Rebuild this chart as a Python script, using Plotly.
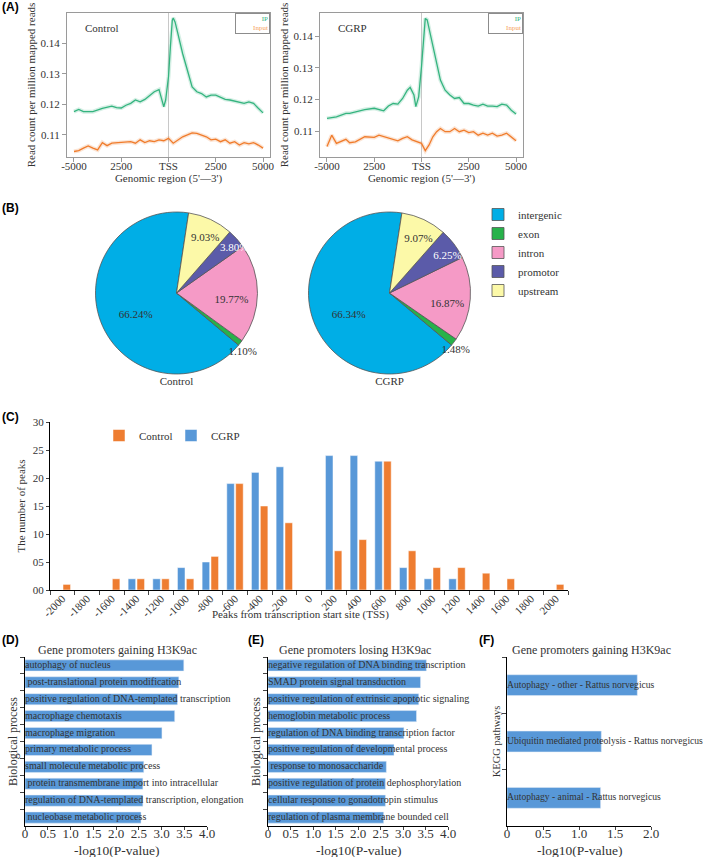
import plotly.graph_objects as go

# ---------------- Panel A data (profile around TSS) ----------------
ctrl_ip_pos = [-5000,-4750,-4500,-4000,-3500,-3000,-2750,-2500,-2250,-2000,-1750,-1500,-1250,-1000,-750,
               -500,-400,-250,-150,0,100,200,250,350,500,750,1000,1250,1500,1750,2000,2250,2500,2750,3000,
               3250,3500,3750,4000,4250,4500,4750,5000]
ctrl_ip = [0.1176,0.1183,0.1176,0.1176,0.1187,0.1194,0.1189,0.1188,0.1197,0.1203,0.1214,0.1208,0.1216,0.1230,0.1241,
           0.1248,0.1224,0.1192,0.1214,0.1290,0.1387,0.1474,0.1482,0.1468,0.1430,0.1365,0.1311,0.1257,0.1241,0.1235,
           0.1224,0.1230,0.1230,0.1224,0.1216,0.1214,0.1210,0.1208,0.1203,0.1208,0.1203,0.1187,0.1172]
ctrl_in_pos = [-5000,-4750,-4500,-4250,-4000,-3750,-3500,-3250,-3000,-2500,-2000,-1750,-1500,-1250,-1000,-750,
               -500,-250,0,250,500,750,1000,1250,1500,1750,2000,2250,2500,2750,3000,3250,3500,3750,4000,4250,
               4500,4750,5000]
ctrl_in = [0.1046,0.1049,0.1057,0.1064,0.1057,0.1051,0.1075,0.1065,0.1073,0.1075,0.1078,0.1073,0.1084,0.1075,0.1081,
           0.1078,0.1084,0.1081,0.1089,0.1073,0.1084,0.1094,0.1100,0.1107,0.1105,0.1100,0.1094,0.1084,0.1086,0.1078,
           0.1084,0.1073,0.1078,0.1067,0.1075,0.1071,0.1075,0.1067,0.1057]
cgrp_ip_pos = [-5000,-4500,-4000,-3800,-3000,-2500,-2000,-1750,-1500,-1250,-1000,-750,-600,-400,-300,-150,0,100,
               200,300,500,750,1000,1250,1500,1750,2000,2250,2500,2750,3000,3250,3500,3750,4000,4250,4500,4750,5000]
cgrp_ip = [0.1140,0.1145,0.1156,0.1156,0.1168,0.1172,0.1164,0.1179,0.1187,0.1185,0.1203,0.1229,0.1238,0.1214,0.1177,
           0.1208,0.1303,0.1398,0.1456,0.1451,0.1398,0.1324,0.1261,0.1229,0.1214,0.1203,0.1206,0.1187,0.1187,0.1182,
           0.1179,0.1185,0.1179,0.1179,0.1177,0.1185,0.1182,0.1166,0.1154]
cgrp_in_pos = [-5000,-4750,-4500,-4000,-3800,-3500,-3000,-2500,-2250,-2000,-1750,-1500,-1250,-1000,-750,-500,-250,0,
               200,400,600,800,1000,1250,1500,1750,2000,2250,2500,2750,3000,3250,3500,3750,4000,4250,4500,4750,5000]
cgrp_in = [0.1051,0.1087,0.1061,0.1074,0.1063,0.1066,0.1082,0.1080,0.1087,0.1082,0.1077,0.1074,0.1069,0.1077,0.1082,
           0.1072,0.1066,0.1061,0.1038,0.1056,0.1082,0.1098,0.1108,0.1098,0.1098,0.1108,0.1098,0.1103,0.1095,0.1098,
           0.1087,0.1093,0.1087,0.1093,0.1084,0.1087,0.1093,0.1082,0.1069]
a_tickvals = [-5000, -2500, 0, 2500, 5000]
a_ticktext = ["-5000", "2500", "TSS", "2500", "5000"]
a_yticks = [0.11, 0.12, 0.13, 0.14]
a_yticktext = ["0.11", "0.12", "0.13", "0.14"]

# ---------------- Panel B data (genomic distribution) ----------------
pie_labels = ["intergenic", "exon", "intron", "promotor", "upstream"]
pie_ctrl = [66.24, 1.10, 19.77, 3.80, 9.03]
pie_cgrp = [66.34, 1.48, 16.87, 6.25, 9.07]

# ---------------- Panel C data (peak distance to TSS) ----------------
tss_bins = ["-2000","-1800","-1600","-1400","-1200","-1000","-800","-600","-400","-200","0",
            "200","400","600","800","1000","1200","1400","1600","1800","2000"]
peaks_cgrp = [0,0,0,2,2,4,5,19,21,22,0,24,24,23,4,2,2,0,0,0,0]
peaks_ctrl = [1,0,2,2,2,2,6,19,15,12,0,7,9,23,7,4,4,3,2,0,1]
c_yticks = [0, 5, 10, 15, 20, 25, 30]
c_yticktext = ["00", "05", "10", "15", "20", "25", "30"]

# ---------------- Panels D, E, F data (enrichment) ----------------
go_gain_terms = ["autophagy of nucleus", " post-translational protein modification",
                 "positive regulation of DNA-templated transcription", "macrophage chemotaxis",
                 "macrophage migration", "primary metabolic process", "small molecule metabolic process",
                 " protein transmembrane import into intracellular",
                 "regulation of DNA-templated transcription, elongation", " nucleobase metabolic process"]
go_gain_vals = [3.49, 3.38, 3.35, 3.29, 3.01, 2.79, 2.61, 2.59, 2.59, 2.55]
go_lose_terms = ["negative regulation of DNA binding transcription", "SMAD protein signal transduction",
                 "positive regulation of extrinsic apoptotic signaling", "hemoglobin metabolic process",
                 "regulation of DNA binding transcription factor", "positive regulation of developmental process",
                 " response to monosaccharide", "positive regulation of protein dephosphorylation",
                 "cellular response to gonadotropin stimulus", "regulation of plasma membrane bounded cell"]
go_lose_vals = [3.52, 3.39, 3.35, 3.30, 3.02, 2.80, 2.63, 2.61, 2.61, 2.57]
kegg_terms = ["Autophagy - other - Rattus norvegicus", "Ubiquitin mediated proteolysis - Rattus norvegicus",
              "Autophagy - animal - Rattus norvegicus"]
kegg_vals = [1.81, 1.31, 1.30]
p_ticks4 = [0, 0.5, 1.0, 1.5, 2.0, 2.5, 3.0, 3.5, 4.0]
p_ticktext4 = ["0", "0.5", "1.0", "1.5", "2.0", "2.5", "3.0", "3.5", "4.0"]
p_ticks2 = [0, 0.5, 1.0, 1.5, 2.0]
p_ticktext2 = ["0", "0.5", "1.0", "1.5", "2.0"]

# ---------------- styling ----------------
W, H = 709, 857
SERIF = "Liberation Serif"
SANS = "Liberation Sans"
GREEN = "#35b47f"
ORANGE = "#f07c2c"
BAR_ORANGE = "#ee7d31"
BLUE = "#5898d8"
PIE_COLORS = ["#00aee6", "#27b24a", "#f59ac6", "#5b5ba9", "#fcf9a8"]
TXT = "#333333"


def px_x(p):
    return p / W


def px_y(p):
    return 1 - p / H


fig = go.Figure()

# ----- Panel A traces -----
for xs, ys, col, xa, ya in [(ctrl_ip_pos, ctrl_ip, GREEN, "x", "y"),
                            (ctrl_in_pos, ctrl_in, ORANGE, "x", "y"),
                            (cgrp_ip_pos, cgrp_ip, GREEN, "x2", "y2"),
                            (cgrp_in_pos, cgrp_in, ORANGE, "x2", "y2")]:
    fig.add_trace(go.Scatter(x=xs, y=ys, mode="lines", line=dict(color=col, width=4),
                             opacity=0.2, xaxis=xa, yaxis=ya, showlegend=False, hoverinfo="skip"))
    fig.add_trace(go.Scatter(x=xs, y=ys, mode="lines", line=dict(color=col, width=1.3),
                             xaxis=xa, yaxis=ya, showlegend=False))

# ----- Panel B pies (coloured pie + transparent overlay carrying the labels) -----
pie_txtcol = [TXT, TXT, TXT, "white", TXT]
for vals, name, dom in [(pie_ctrl, "Control", [89, 264]), (pie_cgrp, "CGRP", [302, 477])]:
    d = dict(x=[px_x(dom[0]), px_x(dom[1])], y=[px_y(386), px_y(212)])
    fig.add_trace(go.Pie(
        labels=pie_labels, values=vals, sort=False, direction="counterclockwise", rotation=130,
        marker=dict(colors=PIE_COLORS, line=dict(color="#555555", width=0.8)),
        textinfo="none", domain=d,
        title=dict(text=name, position="bottom center", font=dict(family=SERIF, size=11, color=TXT)),
        legend="legend", hoverinfo="label+value", name=name, showlegend=(name == "Control")))
    fig.add_trace(go.Pie(
        labels=pie_labels, values=vals, sort=False, direction="counterclockwise", rotation=130,
        marker=dict(colors=["rgba(0,0,0,0)"] * 5, line=dict(width=0)),
        texttemplate="%{value:.2f}%", textposition="inside", insidetextorientation="horizontal",
        textfont=dict(family=SERIF, size=11, color=pie_txtcol),
        domain=d, showlegend=False, hoverinfo="skip"))

# ----- Panel C bars -----
fig.add_trace(go.Bar(x=tss_bins, y=peaks_cgrp, name="CGRP", marker=dict(color=BLUE, line=dict(color="white", width=0.5)),
                     xaxis="x3", yaxis="y3", legend="legend2", legendrank=2))
fig.add_trace(go.Bar(x=tss_bins, y=peaks_ctrl, name="Control", marker=dict(color=BAR_ORANGE, line=dict(color="white", width=0.5)),
                     xaxis="x3", yaxis="y3", legend="legend2", legendrank=1))

# ----- Panels D, E, F -----
for terms, vals, xa, ya, bw, fs in [(go_gain_terms, go_gain_vals, "x4", "y4", 0.66, 10),
                                    (go_lose_terms, go_lose_vals, "x5", "y5", 0.66, 10),
                                    (kegg_terms, kegg_vals, "x6", "y6", 0.37, 9.6)]:
    fig.add_trace(go.Bar(x=vals, y=terms, orientation="h", width=bw, marker=dict(color=BLUE),
                         xaxis=xa, yaxis=ya, showlegend=False))
    fig.add_trace(go.Scatter(x=[0] * len(terms), y=terms, mode="text", text=terms, textposition="middle right",
                             textfont=dict(family=SERIF, size=fs, color=TXT), cliponaxis=False,
                             xaxis=xa, yaxis=ya, showlegend=False, hoverinfo="skip"))

# ---------------- axes ----------------
tickf = dict(family=SERIF, size=11, color=TXT)


def a_x(domain, anchor):
    return dict(domain=domain, anchor=anchor, range=[-5370, 5370], tickvals=a_tickvals, ticktext=a_ticktext,
                showline=True, mirror=True, linecolor="#9a9a9a", linewidth=1, ticks="outside", ticklen=4,
                tickcolor="#9a9a9a", showgrid=False, zeroline=False, tickfont=tickf, automargin=False,
                ticklabelstandoff=-5,
                title=dict(text="Genomic region (5'—3')", font=dict(family=SERIF, size=11, color=TXT), standoff=0))


def a_y(domain, anchor, rng):
    return dict(domain=domain, anchor=anchor, range=rng, tickvals=a_yticks, ticktext=a_yticktext,
                showline=True, mirror=True, linecolor="#9a9a9a", linewidth=1, ticks="outside", ticklen=4,
                tickcolor="#9a9a9a", showgrid=False, zeroline=False, tickfont=tickf, automargin=False,
                title=dict(text="Read count per million mapped reads", font=dict(family=SERIF, size=11, color=TXT),
                           standoff=2))


def p_x(domain, anchor, rng, tv, tt):
    return dict(domain=domain, anchor=anchor, range=rng, tickvals=tv, ticktext=tt, showline=True, linecolor="black",
                linewidth=1, ticks="outside", ticklen=3, showgrid=False, zeroline=False, automargin=False,
                ticklabelstandoff=-8, tickfont=dict(family=SERIF, size=13, color=TXT))


def p_y(domain, anchor, terms, title, fs):
    return dict(domain=domain, anchor=anchor, type="category", categoryorder="array", categoryarray=terms,
                autorange="reversed", showticklabels=False, ticks="outside", tickson="boundaries", ticklen=4,
                showline=True, linecolor="black", linewidth=1, showgrid=False, zeroline=False, automargin=False,
                title=dict(text=title, font=dict(family=SERIF, size=fs, color=TXT), standoff=3))


ydomA = [px_y(157), px_y(13)]
ydomDEF = [px_y(826), px_y(657)]

layout = dict(
    width=W, height=H, margin=dict(l=0, r=0, t=0, b=0, autoexpand=False), paper_bgcolor="white",
    plot_bgcolor="white", font=dict(family=SERIF, size=11, color=TXT),
    barmode="group", bargap=0.28, bargroupgap=0.15,
    uniformtext=dict(minsize=11, mode="show"),
    xaxis=a_x([px_x(67), px_x(270)], "y"),
    yaxis=a_y(ydomA, "x", [0.1028, 0.1498]),
    xaxis2=a_x([px_x(320), px_x(523)], "y2"),
    yaxis2=a_y(ydomA, "x2", [0.1018, 0.1473]),
    xaxis3=dict(domain=[px_x(50), px_x(568)], anchor="y3", type="category", tickangle=-45, showline=True,
                linecolor="black", linewidth=1, ticks="outside", tickson="boundaries", ticklen=4, showgrid=False,
                tickfont=dict(family=SERIF, size=11, color=TXT), automargin=False, ticklabelstandoff=-3),
    yaxis3=dict(domain=[px_y(590), px_y(422)], anchor="x3", range=[0, 30], tickvals=c_yticks, ticktext=c_yticktext,
                showline=True, linecolor="black", linewidth=1, ticks="outside", ticklen=3, showgrid=False,
                zeroline=False, tickfont=dict(family=SERIF, size=11, color=TXT), automargin=False,
                title=dict(text="The number of peaks", font=dict(family=SERIF, size=11, color=TXT), standoff=4)),
    xaxis4=p_x([px_x(25), px_x(207)], "y4", [0, 4.0], p_ticks4, p_ticktext4),
    yaxis4=p_y(ydomDEF, "x4", go_gain_terms, "Biological process", 12),
    xaxis5=p_x([px_x(268), px_x(448)], "y5", [0, 4.0], p_ticks4, p_ticktext4),
    yaxis5=p_y(ydomDEF, "x5", go_lose_terms, "Biological process", 12),
    xaxis6=p_x([px_x(507), px_x(651)], "y6", [0, 2.0], p_ticks2, p_ticktext2),
    yaxis6=p_y(ydomDEF, "x6", kegg_terms, "KEGG pathways", 10.5),
    legend=dict(x=px_x(478), y=px_y(200), xanchor="left", yanchor="top", bgcolor="rgba(0,0,0,0)",
                font=dict(family=SERIF, size=11, color=TXT), tracegroupgap=0, itemwidth=30),
    legend2=dict(x=px_x(99), y=px_y(421), xanchor="left", yanchor="top", orientation="h", bgcolor="rgba(0,0,0,0)",
                 font=dict(family=SERIF, size=11, color=TXT), itemwidth=30, entrywidth=27),
    showlegend=True,
)
fig.update_layout(**layout)

# TSS vertical lines
for xr, yr in [("x", "y"), ("x2", "y2")]:
    fig.add_shape(type="line", xref=xr, yref=yr + " domain", x0=0, x1=0, y0=0, y1=1,
                  line=dict(color="#c8c8c8", width=1), layer="below")

ann = []
# condition labels inside A and the small IP / Input key
for xr, yr, t in [("x", "y", "Control"), ("x2", "y2", "CGRP")]:
    ann.append(dict(xref=xr + " domain", yref=yr + " domain", x=0.08, y=0.95, xanchor="left", yanchor="top",
                    text=t, showarrow=False, font=dict(family=SERIF, size=11, color=TXT)))
    ann.append(dict(xref=xr + " domain", yref=yr + " domain", x=1, y=1, xanchor="right", yanchor="top",
                    text="<span style='color:%s'>IP</span><br><span style='color:#f5a05a'>Input</span>" % GREEN,
                    align="right", showarrow=False, bordercolor="#8c8c8c", borderwidth=1, borderpad=1,
                    bgcolor="white", font=dict(family=SERIF, size=7), width=31))
# x-axis titles of C, D, E, F
ann.append(dict(xref="paper", yref="paper", x=px_x(300), y=px_y(614), xanchor="center", yanchor="middle",
                text="Peaks from transcription start site (TSS)", showarrow=False,
                font=dict(family=SERIF, size=11, color=TXT)))
for xr in ["x4", "x5", "x6"]:
    ann.append(dict(xref=xr + " domain", yref="paper", x=0.5, y=px_y(850), xanchor="center", yanchor="middle",
                    text="-log10(P-value)", showarrow=False, font=dict(family=SERIF, size=13.5, color=TXT)))
# titles for D, E, F
for xp, t in [(36, "Gene promoters gaining H3K9ac"), (277, "Gene promoters losing H3K9ac"),
              (510, "Gene promoters gaining H3K9ac")]:
    ann.append(dict(xref="paper", yref="paper", x=px_x(xp), y=px_y(650), xanchor="left", yanchor="middle",
                    text=t, showarrow=False, font=dict(family=SERIF, size=12, color=TXT)))
# panel letters
for xp, yp, t in [(0, 7, "(A)"), (0, 208, "(B)"), (0, 417, "(C)"), (0, 640, "(D)"), (246, 640, "(E)"),
                  (477, 640, "(F)")]:
    ann.append(dict(xref="paper", yref="paper", x=px_x(xp), y=px_y(yp), xanchor="left", yanchor="middle",
                    text="<b>%s</b>" % t, showarrow=False, font=dict(family=SANS, size=12, color="black")))
fig.update_layout(annotations=ann)

fig.write_html("out.html", config={"displayModeBar": False},
               post_script="document.body.style.margin='0px';")
